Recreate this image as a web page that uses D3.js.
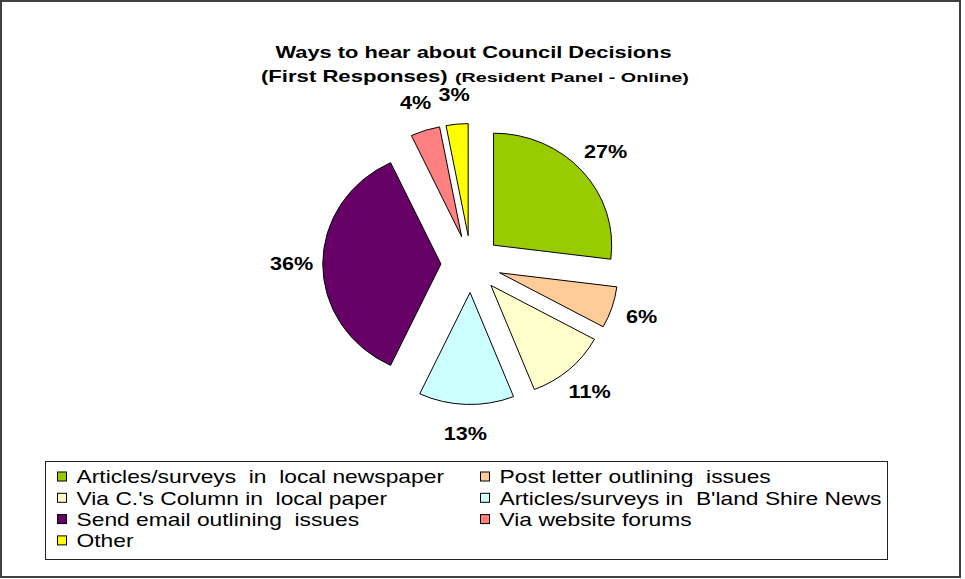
<!DOCTYPE html>
<html>
<head>
<meta charset="utf-8">
<script src="https://cdn.jsdelivr.net/npm/d3@7"></script>
<style>
  html, body { margin: 0; padding: 0; background: #fff; }
  svg { display: block; font-family: "Liberation Sans", Arial, sans-serif; }
  .pre { white-space: pre; }
</style>
</head>
<body>
<svg id="chart" width="965" height="579"></svg>
<script>
// ---- data ----
const categories = [
  "Articles/surveys  in  local newspaper",
  "Post letter outlining  issues",
  "Via C.'s Column in  local paper",
  "Articles/surveys in  B'land Shire News",
  "Send email outlining  issues",
  "Via website forums",
  "Other"
];
const values = [27, 6, 11, 13, 36, 4, 3];
const valueLabels = ["27%", "6%", "11%", "13%", "36%", "4%", "3%"];
const colors = ["#99CC00", "#FFCC99", "#FFFFCC", "#CCFFFF", "#660066", "#FF8080", "#FFFF00"];
const titleLine1 = "Ways to hear about Council Decisions";
const titleLine2a = "(First Responses)";
const titleLine2b = "(Resident Panel - Online)";

// ---- layout ----
const cx = 471, cy = 264, sx = 1.055;
const R = 112, EXPLODE = 28.5, LABEL_R = 170;

const svg = d3.select("#chart");

// outer border
svg.append("rect")
  .attr("x", 1).attr("y", 1).attr("width", 959).attr("height", 576)
  .attr("fill", "#fff").attr("stroke", "#404040").attr("stroke-width", 2);

function stretch(sel, k) {
  sel.each(function () {
    const len = this.getComputedTextLength();
    d3.select(this).attr("textLength", len * k).attr("lengthAdjust", "spacingAndGlyphs");
  });
}

// titles
const t1 = svg.append("text")
  .attr("x", 473.5).attr("y", 58).attr("text-anchor", "middle")
  .attr("font-size", 17).attr("font-weight", "bold").attr("fill", "#000")
  .text(titleLine1);
stretch(t1, 1.285);

const t2a = svg.append("text")
  .attr("x", 261).attr("y", 82)
  .attr("font-size", 17).attr("font-weight", "bold").attr("fill", "#000")
  .text(titleLine2a);
stretch(t2a, 1.3);
const t2b = svg.append("text")
  .attr("x", 455).attr("y", 82)
  .attr("font-size", 13).attr("font-weight", "bold").attr("fill", "#000")
  .text(titleLine2b);
stretch(t2b, 1.52);

// pie
const pie = d3.pie().sort(null).value(d => d);
const arcs = pie(values);
const arc = d3.arc().innerRadius(0).outerRadius(R);
const labelArc = d3.arc().innerRadius(LABEL_R).outerRadius(LABEL_R);

const g = svg.append("g").attr("transform", `translate(${cx},${cy}) scale(${sx},1)`);
g.selectAll("path")
  .data(arcs)
  .join("path")
  .attr("d", arc)
  .attr("transform", d => {
    const m = (d.startAngle + d.endAngle) / 2;
    return `translate(${Math.sin(m) * EXPLODE},${-Math.cos(m) * EXPLODE})`;
  })
  .attr("fill", (d, i) => colors[i])
  .attr("stroke", "#000")
  .attr("stroke-width", 1)
  .attr("vector-effect", "non-scaling-stroke");

const lbl = svg.append("g").selectAll("text")
  .data(arcs)
  .join("text")
  .attr("x", d => cx + labelArc.centroid(d)[0] * sx)
  .attr("y", d => cy + labelArc.centroid(d)[1])
  .attr("dy", "0.36em")
  .attr("text-anchor", "middle")
  .attr("font-size", 18)
  .attr("font-weight", "bold")
  .attr("fill", "#000")
  .text((d, i) => valueLabels[i]);
stretch(lbl, 1.2);

// legend
const lgX = 45.5, lgY = 461.5, lgW = 842, lgH = 98;
svg.append("rect")
  .attr("x", lgX).attr("y", lgY).attr("width", lgW).attr("height", lgH)
  .attr("fill", "#fff").attr("stroke", "#222").attr("stroke-width", 1);

const colX = [57, 480];
const rowY = d3.range(4).map(r => 476.5 + r * 21.3);
const items = svg.append("g").selectAll("g")
  .data(categories)
  .join("g")
  .attr("transform", (d, i) => `translate(${colX[i % 2]},${rowY[Math.floor(i / 2)]})`);
items.append("rect")
  .attr("x", 0.5).attr("y", -4.5).attr("width", 9).attr("height", 9)
  .attr("fill", (d, i) => colors[i]).attr("stroke", "#000").attr("stroke-width", 1);
const lt = items.append("text")
  .attr("class", "pre")
  .attr("x", 19.5).attr("y", 0).attr("dy", "0.36em")
  .attr("font-size", 19).attr("fill", "#000")
  .text(d => d);
stretch(lt, 1.2);
</script>
</body>
</html>
